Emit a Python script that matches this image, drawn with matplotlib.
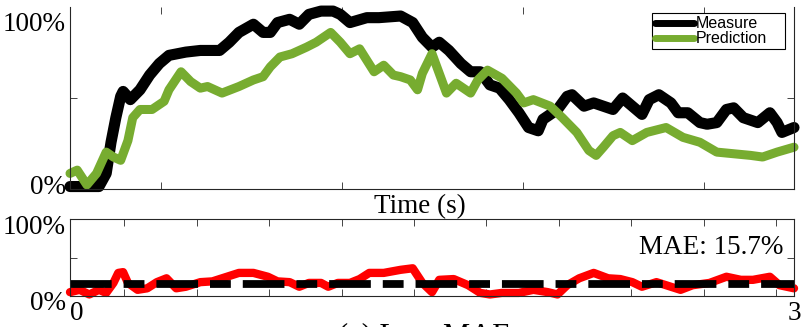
import matplotlib
matplotlib.use("Agg")
import matplotlib.pyplot as plt
from matplotlib.transforms import ScaledTranslation

# values (time in s, level as fraction)
measureTime = [0.00, 0.12, 0.15, 0.17, 0.19, 0.21, 0.22, 0.25, 0.29, 0.33, 0.37, 0.41,
               0.48, 0.54, 0.59, 0.62, 0.66, 0.70, 0.76, 0.80, 0.83, 0.86, 0.91, 0.95,
               0.99, 1.04, 1.09, 1.12, 1.16, 1.23, 1.28, 1.37, 1.42, 1.46, 1.50, 1.53,
               1.57, 1.62, 1.66, 1.70, 1.74, 1.78, 1.82, 1.86, 1.90, 1.94, 1.96, 2.02,
               2.06, 2.08, 2.13, 2.17, 2.25, 2.29, 2.33, 2.37, 2.40, 2.44, 2.49, 2.52,
               2.56, 2.61, 2.64, 2.68, 2.72, 2.75, 2.79, 2.85, 2.90, 2.93, 2.95, 3.00]
measure = [-0.04, -0.04, 0.04, 0.23, 0.38, 0.51, 0.54, 0.49, 0.55, 0.64, 0.71, 0.76,
           0.78, 0.79, 0.79, 0.79, 0.84, 0.90, 0.95, 0.90, 0.90, 0.96, 0.98, 0.95,
           1.01, 1.03, 1.03, 1.01, 0.96, 0.99, 0.99, 1.00, 0.96, 0.87, 0.81, 0.84,
           0.79, 0.71, 0.66, 0.66, 0.58, 0.56, 0.49, 0.41, 0.32, 0.30, 0.37, 0.43,
           0.51, 0.52, 0.45, 0.47, 0.43, 0.50, 0.45, 0.40, 0.49, 0.52, 0.47, 0.41,
           0.41, 0.35, 0.34, 0.35, 0.43, 0.44, 0.38, 0.35, 0.41, 0.35, 0.29, 0.32]

predictionTime = [0.00, 0.03, 0.07, 0.11, 0.15, 0.18, 0.21, 0.24, 0.26, 0.29, 0.34, 0.39,
                  0.41, 0.46, 0.50, 0.54, 0.57, 0.63, 0.70, 0.76, 0.80, 0.83, 0.87, 0.92,
                  0.98, 1.02, 1.08, 1.12, 1.16, 1.20, 1.26, 1.30, 1.34, 1.37, 1.41, 1.44,
                  1.46, 1.50, 1.52, 1.56, 1.60, 1.66, 1.69, 1.73, 1.79, 1.85, 1.88, 1.92,
                  1.99, 2.04, 2.10, 2.15, 2.18, 2.21, 2.25, 2.28, 2.33, 2.39, 2.47, 2.54,
                  2.61, 2.68, 2.75, 2.82, 2.87, 2.93, 3.00]
prediction = [0.04, 0.06, -0.03, 0.04, 0.17, 0.14, 0.12, 0.24, 0.38, 0.43, 0.43, 0.48,
              0.55, 0.66, 0.60, 0.56, 0.57, 0.53, 0.57, 0.61, 0.63, 0.69, 0.75, 0.77,
              0.81, 0.84, 0.90, 0.84, 0.77, 0.80, 0.66, 0.70, 0.64, 0.63, 0.61, 0.55,
              0.65, 0.77, 0.69, 0.53, 0.59, 0.53, 0.61, 0.67, 0.62, 0.53, 0.47, 0.49,
              0.45, 0.38, 0.29, 0.18, 0.15, 0.20, 0.27, 0.29, 0.24, 0.29, 0.32, 0.26,
              0.23, 0.17, 0.16, 0.15, 0.14, 0.17, 0.20]

errorTime = [0.00, 0.04, 0.08, 0.12, 0.15, 0.18, 0.20, 0.22, 0.24, 0.28, 0.32, 0.36,
             0.40, 0.44, 0.48, 0.54, 0.59, 0.65, 0.70, 0.76, 0.82, 0.86, 0.91, 0.95,
             0.99, 1.04, 1.07, 1.11, 1.16, 1.20, 1.24, 1.30, 1.37, 1.42, 1.46, 1.50,
             1.53, 1.59, 1.65, 1.70, 1.74, 1.79, 1.86, 1.92, 1.98, 2.02, 2.06, 2.11,
             2.17, 2.23, 2.28, 2.33, 2.37, 2.43, 2.49, 2.53, 2.58, 2.65, 2.72, 2.78,
             2.83, 2.90, 2.94, 3.00]
error = [0.05, 0.08, 0.02, 0.08, 0.04, 0.17, 0.30, 0.31, 0.17, 0.08, 0.10, 0.18,
         0.23, 0.10, 0.12, 0.18, 0.19, 0.25, 0.30, 0.30, 0.25, 0.19, 0.18, 0.12,
         0.17, 0.17, 0.12, 0.17, 0.17, 0.22, 0.30, 0.30, 0.34, 0.36, 0.17, 0.05,
         0.21, 0.22, 0.14, 0.04, 0.02, 0.04, 0.04, 0.08, 0.05, 0.02, 0.14, 0.23,
         0.30, 0.23, 0.22, 0.18, 0.12, 0.18, 0.12, 0.08, 0.14, 0.17, 0.25, 0.21,
         0.21, 0.25, 0.14, 0.10]
mae = 0.157

topXTicks = [0.375, 1.125, 1.875, 2.625]
bottomXTicks = [0.225, 0.525, 0.825, 1.125, 1.425, 1.725, 2.025, 2.325, 2.625, 2.925]
yLabels = ["0%", "100%"]

green = "#77AC30"
serif = "Liberation Serif"
bigFont = 19.5

plt.rcParams["font.family"] = serif
plt.rcParams["lines.scale_dashes"] = False

fig = plt.figure(figsize=(8.1, 3.27), dpi=100)
ax1 = fig.add_axes([70 / 810, 1 - 189 / 327, 724 / 810, 182 / 327])
ax2 = fig.add_axes([70 / 810, 1 - 296 / 327, 724 / 810, 77 / 327])


def styleAxes(ax, xticks):
    ax.set_xlim(0, 3)
    ax.set_xticks(xticks)
    ax.set_xticklabels([])
    ax.set_yticks([0, 1])
    ax.set_yticklabels(yLabels)
    ax.set_yticks([0.5], minor=True)
    ax.tick_params(which="both", direction="in", top=True, right=True,
                   width=0.6, color="#262626")
    ax.tick_params(axis="x", length=5)
    ax.tick_params(axis="y", which="minor", length=5)
    ax.tick_params(axis="y", which="major", length=0, pad=3, labelsize=bigFont)
    for s in ax.spines.values():
        s.set_linewidth(0.8)
        s.set_color("#262626")
    # MATLAB puts the labels a little low
    off = ScaledTranslation(0, -0.05, fig.dpi_scale_trans)
    for lab in ax.get_yticklabels():
        lab.set_transform(lab.get_transform() + off)


styleAxes(ax1, topXTicks)
ax1.set_ylim(-0.055, 1.055)
ax1.spines["top"].set_visible(False)
ax1.plot(measureTime, measure, color="black", lw=8.0, label="Measure",
         solid_joinstyle="round", solid_capstyle="round", clip_on=False)
ax1.plot(predictionTime, prediction, color=green, lw=6.5, label="Prediction",
         solid_joinstyle="round", solid_capstyle="round", clip_on=False)

leg = ax1.legend(loc="upper left", bbox_to_anchor=(0.8039, 0.767, 0.1837, 0.2),
                 mode="expand", fancybox=False, edgecolor="black", framealpha=1,
                 prop={"family": "Liberation Sans", "size": 11.5},
                 handlelength=2.4, handletextpad=0.15, borderpad=0.2,
                 labelspacing=0.0, borderaxespad=0)
leg.get_frame().set_linewidth(0.8)
for h in leg.get_lines():
    h.set_linewidth(5)

styleAxes(ax2, bottomXTicks)
ax2.set_ylim(0, 1)
ax2.plot(errorTime, error, color="red", lw=6.0, solid_joinstyle="round",
         solid_capstyle="round", clip_on=False)
ax2.axhline(mae, color="black", lw=5.6, linestyle=(0, (30, 8.6, 15, 8.6)))
ax2.text(2.954, 0.636, "MAE: {:.1f}%".format(mae * 100), ha="right", va="center",
         fontsize=bigFont)

fig.text(420 / 810, 1 - 207 / 327, "Time (s)", ha="center", va="center", fontsize=bigFont)
fig.text(77 / 810, 1 - 314 / 327, "0", ha="center", va="center", fontsize=bigFont)
fig.text(794 / 810, 1 - 314 / 327, "3", ha="center", va="center", fontsize=bigFont)
# caption sits below the frame edge in the original, only its top shows
fig.text(424 / 810, 1 - 322 / 327, "(a) Low MAE", ha="center", va="top", fontsize=22)

fig.savefig("out.png", dpi=100)
